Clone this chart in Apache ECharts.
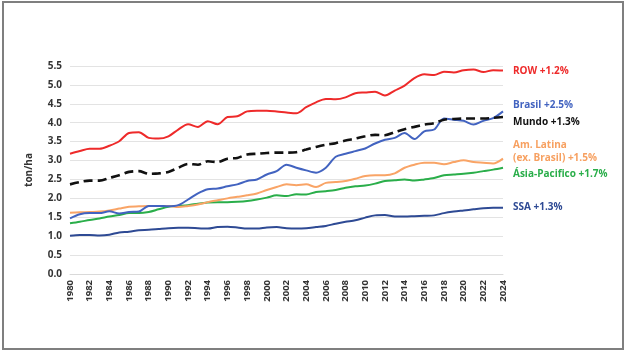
<!DOCTYPE html>
<html>
<head>
<meta charset="utf-8">
<script src="https://cdn.jsdelivr.net/npm/echarts@6/dist/echarts.min.js"></script>
<style>
  html, body { margin: 0; padding: 0; background: #fff; }
  #main { width: 628px; height: 354px; }
</style>
</head>
<body>
<div id="main"></div>
<script>
// anos 1980-2024
const years = []
for (let y = 1980; y <= 2024; y++) years.push(String(y))

// produtividade (ton/ha)
const row = [3.18, 3.25, 3.31, 3.31, 3.39, 3.51, 3.73, 3.75, 3.60, 3.58, 3.64, 3.82, 3.96, 3.89, 4.04, 3.96, 4.15, 4.17, 4.30, 4.32, 4.32, 4.30, 4.27, 4.25, 4.41, 4.54,
  4.63, 4.62, 4.67, 4.78, 4.80, 4.82, 4.72, 4.85, 4.98, 5.18, 5.28, 5.26, 5.35, 5.33, 5.39, 5.41, 5.34, 5.39, 5.38]
const brasil = [1.47, 1.58, 1.61, 1.61, 1.66, 1.60, 1.64, 1.65, 1.80, 1.80, 1.79, 1.82, 1.97, 2.13, 2.24, 2.26, 2.32, 2.37, 2.46, 2.50, 2.63, 2.72, 2.89, 2.81, 2.74, 2.68,
  2.81, 3.10, 3.18, 3.25, 3.32, 3.45, 3.55, 3.60, 3.73, 3.57, 3.77, 3.82, 4.11, 4.08, 4.05, 3.95, 4.05, 4.12, 4.30]
const mundo = [2.37, 2.43, 2.47, 2.47, 2.54, 2.61, 2.70, 2.72, 2.65, 2.66, 2.70, 2.81, 2.91, 2.89, 2.98, 2.96, 3.05, 3.07, 3.16, 3.18, 3.20, 3.21, 3.21, 3.22, 3.29, 3.36,
  3.42, 3.46, 3.53, 3.58, 3.64, 3.68, 3.67, 3.75, 3.83, 3.89, 3.95, 3.99, 4.08, 4.10, 4.11, 4.11, 4.11, 4.13, 4.15]
const amLatina = [1.62, 1.63, 1.64, 1.65, 1.68, 1.73, 1.78, 1.79, 1.80, 1.80, 1.80, 1.77, 1.80, 1.84, 1.90, 1.95, 2.00, 2.04, 2.08, 2.13, 2.22, 2.30, 2.37, 2.35, 2.37, 2.30,
  2.41, 2.43, 2.46, 2.52, 2.59, 2.61, 2.61, 2.66, 2.81, 2.89, 2.94, 2.94, 2.90, 2.96, 3.01, 2.96, 2.94, 2.92, 3.05]
const asiaPac = [1.34, 1.38, 1.43, 1.47, 1.52, 1.56, 1.61, 1.61, 1.64, 1.71, 1.78, 1.80, 1.82, 1.86, 1.89, 1.90, 1.90, 1.91, 1.93, 1.97, 2.02, 2.08, 2.06, 2.11, 2.10, 2.17,
  2.19, 2.22, 2.28, 2.32, 2.34, 2.39, 2.46, 2.48, 2.50, 2.47, 2.50, 2.54, 2.61, 2.63, 2.65, 2.68, 2.72, 2.76, 2.81]
const ssa = [1.01, 1.03, 1.03, 1.02, 1.04, 1.10, 1.12, 1.16, 1.17, 1.19, 1.21, 1.22, 1.22, 1.21, 1.20, 1.24, 1.25, 1.23, 1.20, 1.20, 1.23, 1.24, 1.21, 1.20, 1.21, 1.24,
  1.27, 1.33, 1.38, 1.42, 1.49, 1.55, 1.56, 1.52, 1.52, 1.53, 1.54, 1.55, 1.61, 1.65, 1.68, 1.71, 1.74, 1.75, 1.75]

// rótulos à direita
const labels = [
  { text: 'ROW +1.2%', color: '#ee2a2a', y: 73 },
  { text: 'Brasil +2.5%', color: '#4263c0', y: 107 },
  { text: 'Mundo +1.3%', color: '#111111', y: 124 },
  { text: 'Am. Latina', color: '#f7a060', y: 147 },
  { text: '(ex. Brasil) +1.5%', color: '#f7a060', y: 160 },
  { text: 'Ásia-Pacifico +1.7%', color: '#2aae4a', y: 176 },
  { text: 'SSA +1.3%', color: '#2e4a94', y: 209 }
]

const font = 'Open Sans'

function line(name, data, color, dashed) {
  return {
    name: name,
    type: 'line',
    data: data,
    smooth: 0.3,
    symbol: 'none',
    lineStyle: { color: color, width: dashed ? 2.6 : 2, type: dashed ? [9, 5] : 'solid' }
  }
}

const myChart = echarts.init(document.getElementById('main'))
myChart.setOption({
  animation: false,
  grid: { left: 70, right: 125, top: 66, bottom: 80 },
  xAxis: {
    type: 'category',
    data: years,
    boundaryGap: false,
    axisLine: { show: true, lineStyle: { color: '#d9d9d9' } },
    axisTick: { show: false },
    axisLabel: { interval: 1, rotate: 90, fontFamily: font, fontWeight: 'bold', fontSize: 9.5, color: '#333', margin: 6 }
  },
  yAxis: {
    type: 'value',
    min: 0,
    max: 5.5,
    interval: 0.5,
    name: 'ton/ha',
    nameLocation: 'middle',
    nameGap: 36,
    nameTextStyle: { fontFamily: font, fontWeight: 'bold', fontSize: 10, color: '#333' },
    axisLine: { show: false },
    axisTick: { show: false },
    axisLabel: { formatter: v => v.toFixed(1), fontFamily: font, fontWeight: 'bold', fontSize: 10, color: '#333', margin: 8 },
    splitLine: { lineStyle: { color: '#e3e3e3' } }
  },
  graphic: [
    { type: 'rect', shape: { x: 3, y: 2, width: 620, height: 347 }, style: { fill: 'none', stroke: '#7f7f7f', lineWidth: 2 } }
  ].concat(labels.map(l => ({
    type: 'text', left: 513, top: l.y - 7,
    style: { text: l.text, fill: l.color, font: 'bold 10px "' + font + '"' }
  }))),
  series: [
    line('SSA', ssa, '#2e4a94'),
    line('Ásia-Pacifico', asiaPac, '#2aae4a'),
    line('Am. Latina', amLatina, '#f9a466'),
    line('Brasil', brasil, '#4263c0'),
    line('ROW', row, '#ee2a2a'),
    line('Mundo', mundo, '#111111', true)
  ]
})
</script>
</body>
</html>
